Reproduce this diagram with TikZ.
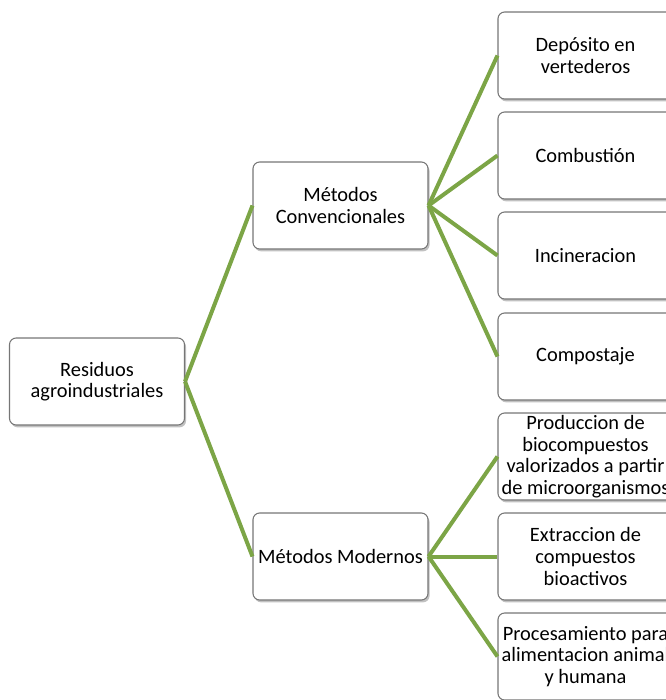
\documentclass[tikz,border=0pt]{standalone}
\usepackage{fontspec}
\setmainfont{Carlito}
\usetikzlibrary{shadows}
\definecolor{ramagreen}{RGB}{124,165,70}
\definecolor{cajaborde}{RGB}{118,118,118}
\tikzset{
  caja/.style={draw=cajaborde, fill=white, rounded corners=5pt, line width=0.8pt,
    minimum width=131.25pt, minimum height=65.25pt, text width=129pt, inner sep=1pt,
    align=flush center, font=\fontsize{15.3}{16.2}\selectfont,
    drop shadow={shadow xshift=1.2pt, shadow yshift=-1.8pt, opacity=0.35, fill=black!70}},
  rama/.style={draw=ramagreen, line width=3pt}
}
\begin{document}
\begin{tikzpicture}[x=0.75pt,y=-0.75pt]
  \useasboundingbox (0,0) rectangle (666,700);
  \clip (0,0) rectangle (666,700);

  \node[caja] (raiz) at (97,381.5) {Residuos\\agroindustriales};
  \node[caja] (conv) at (340.5,205.5) {Métodos\\Convencionales};
  \node[caja] (mod) at (340.5,556.5) {Métodos Modernos};

  % metodos convencionales
  \node[caja] (deposito) at (585.5,55.5) {Depósito en\\vertederos};
  \node[caja] (combustion) at (585.5,155.5) {Combustión};
  \node[caja] (incineracion) at (585.5,255.5) {Incineracion};
  \node[caja] (compostaje) at (585.5,356.5) {Compostaje};

  % metodos modernos
  \node[caja] (produccion) at (585.5,456.5) {Produccion de\\biocompuestos\\valorizados a partir\\de microorganismos};
  \node[caja] (extraccion) at (585.5,556.5) {Extraccion de\\compuestos\\bioactivos};
  \node[caja] (procesamiento) at (585.5,656.5) {Procesamiento para\\alimentacion animal\\y humana};

  \draw[rama] (raiz.east) -- (conv.west);
  \draw[rama] (raiz.east) -- (mod.west);
  \foreach \hijo in {deposito,combustion,incineracion,compostaje}
    \draw[rama] (conv.east) -- (\hijo.west);
  \foreach \hijo in {produccion,extraccion,procesamiento}
    \draw[rama] (mod.east) -- (\hijo.west);
\end{tikzpicture}
\end{document}
